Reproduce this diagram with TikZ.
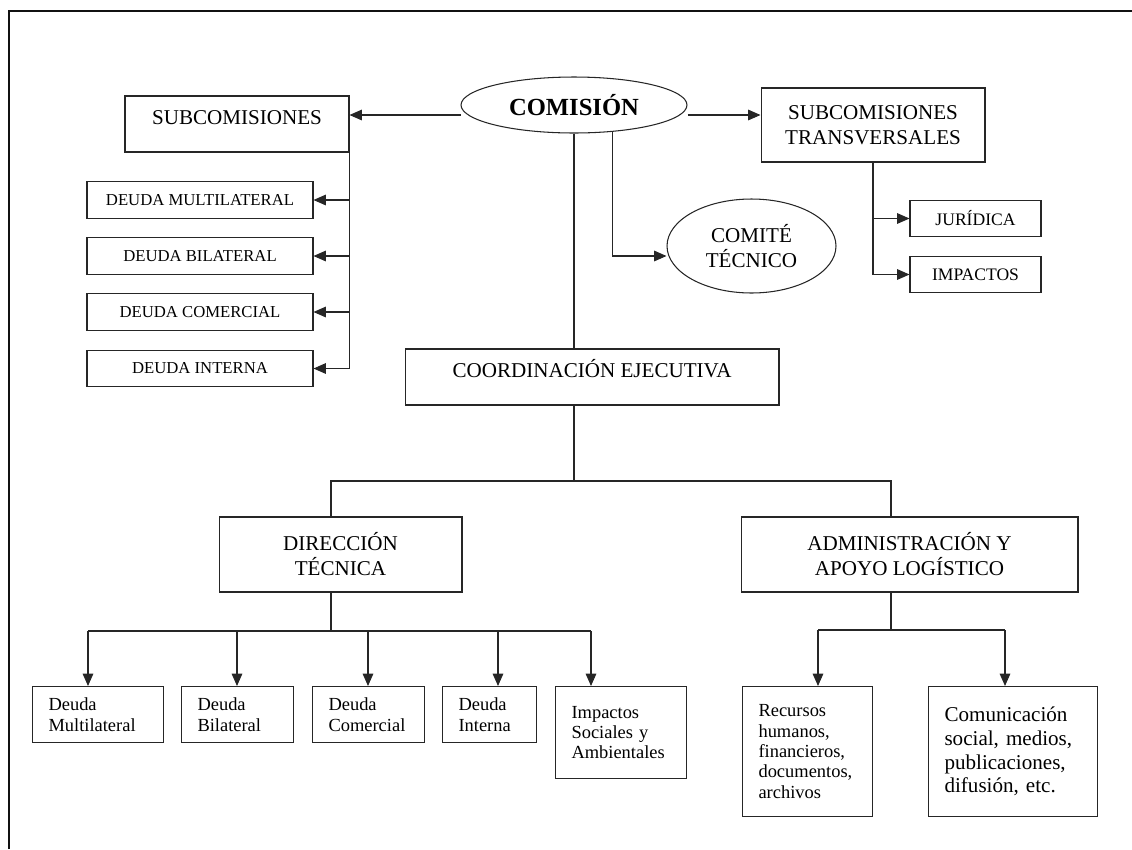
\documentclass[tikz,border=0pt]{standalone}
\usepackage{fontspec}
\setmainfont{Liberation Serif}
\usetikzlibrary{arrows.meta,shapes.geometric}
\definecolor{frame}{HTML}{111111}
\definecolor{edge}{HTML}{262626}

\begin{document}
\begin{tikzpicture}[x=0.02cm,y=-0.02cm,
  box/.style={draw=edge,line width=0.6pt,inner sep=0pt,align=center,font=\fontsize{12}{14.2}\selectfont},
  oval/.style={ellipse,draw=edge,line width=0.6pt,inner sep=0pt,align=center},
  small/.style={draw=edge,line width=0.6pt,inner sep=0pt,minimum height=0.73cm,font=\fontsize{9.5}{11}\selectfont},
  leaf/.style={draw=edge,line width=0.6pt,anchor=north west,inner xsep=0.32cm,inner ysep=0pt,align=left,font=\fontsize{10.5}{11.6}\selectfont},
  link/.style={edge,line width=0.6pt},
  arr/.style={edge,line width=0.6pt,-{Triangle[length=7pt,width=6pt]}}]

  \useasboundingbox (0,0) rectangle (1132,849);
  % Page frame
  \draw[frame,line width=1.3pt] (9,849) -- (9,11) -- (1132,11);

  % Top level
  \node[oval,minimum width=4.52cm,minimum height=1.12cm,font=\fontsize{14}{16}\selectfont\bfseries] (comision) at (574,105) {COMISIÓN};
  \node[box,minimum width=4.48cm,minimum height=1.12cm,text height=0.3cm,text depth=0.3cm] (subcom) at (237,124) {SUBCOMISIONES};
  \node[box,minimum width=4.48cm,minimum height=1.48cm] (transv) at (873,125) {SUBCOMISIONES\\TRANSVERSALES};
  \node[oval,minimum width=3.38cm,minimum height=1.88cm,font=\fontsize{12}{14.2}\selectfont] (comite) at (751.5,246) {COMITÉ\\TÉCNICO};

  % Subcomisiones
  \node[small,minimum width=4.52cm] (dmulti) at (200,200) {DEUDA MULTILATERAL};
  \node[small,minimum width=4.52cm] (dbi) at (200,256) {DEUDA BILATERAL};
  \node[small,minimum width=4.52cm] (dcom) at (200,312) {DEUDA COMERCIAL};
  \node[small,minimum width=4.52cm] (dint) at (200,368.5) {DEUDA INTERNA};

  % Transversales
  \node[small,minimum width=2.62cm,font=\fontsize{10}{12}\selectfont] (juridica) at (975.5,218.5) {JURÍDICA};
  \node[small,minimum width=2.62cm,font=\fontsize{10}{12}\selectfont] (impactos) at (975.5,274.5) {IMPACTOS};

  % Coordination
  \node[box,minimum width=7.48cm,minimum height=1.12cm,text height=0.3cm,text depth=0.3cm] (coord) at (592,377) {COORDINACIÓN EJECUTIVA};
  \node[box,minimum width=4.86cm,minimum height=1.5cm] (direc) at (340.5,554.5) {DIRECCIÓN\\TÉCNICA};
  \node[box,minimum width=6.74cm,minimum height=1.5cm] (admin) at (909.5,554.5) {ADMINISTRACIÓN Y\\APOYO LOGÍSTICO};

  % Bottom row
  \node[leaf,text width=1.98cm,minimum height=1.12cm] (bmulti) at (32,686) {Deuda\\Multilateral};
  \node[leaf,text width=1.6cm,minimum height=1.12cm] (bbi) at (181,686) {Deuda\\Bilateral};
  \node[leaf,text width=1.6cm,minimum height=1.12cm] (bcom) at (312,686) {Deuda\\Comercial};
  \node[leaf,text width=1.24cm,minimum height=1.12cm] (bint) at (442,686) {Deuda\\Interna};
  \node[leaf,text width=1.98cm,minimum height=1.84cm] (bimp) at (555,686) {Impactos\\Sociales y\\Ambientales};
  \node[leaf,text width=1.96cm,minimum height=2.6cm] (brec) at (742,686) {Recursos\\humanos,\\financieros,\\documentos,\\archivos};
  \node[leaf,text width=2.74cm,minimum height=2.6cm,font=\fontsize{12}{13.4}\selectfont] (bcomu) at (928,686) {Comunicación\\social, medios,\\publicaciones,\\difusión, etc.};

  % Links from the top
  \coordinate (lvlT) at (0,115);
  \coordinate (lvlC) at (0,256);
  \draw[arr] (comision.west |- lvlT) -- (subcom.east |- lvlT);
  \draw[arr] (comision.east |- lvlT) -- (transv.west |- lvlT);
  \draw[link] (comision.south) -- (comision.south |- coord.north);
  \draw[arr] (comision.-35) |- (comite.west |- lvlC);
  \draw[arr] (transv.south) |- (juridica.west);
  \draw[arr] (transv.south) |- (impactos.west);
  \foreach \n in {dmulti,dbi,dcom,dint}
    \draw[arr] (subcom.south east) |- (\n.east);

  % Links below coordination
  \coordinate (busM) at (574,481);
  \coordinate (dropL) at (331,481);
  \coordinate (dropR) at (891,481);
  \draw[link] (coord.south -| busM) -- (busM);
  \draw[link] (dropL |- direc.north) -- (dropL) -- (dropR) -- (dropR |- admin.north);

  \coordinate (busD) at (331,631);
  \draw[link] (direc.south -| busD) -- (busD);
  \foreach \x/\n in {88/bmulti,237/bbi,368/bcom,498/bint,591/bimp} {
    \coordinate (t\n) at (\x,631);
    \draw[arr] (t\n) -- (t\n |- \n.north);
  }
  \draw[link] (tbmulti) -- (tbimp);

  \coordinate (busA) at (891,630);
  \draw[link] (admin.south -| busA) -- (busA);
  \foreach \x/\n in {818/brec,1005/bcomu} {
    \coordinate (t\n) at (\x,630);
    \draw[arr] (t\n) -- (t\n |- \n.north);
  }
  \draw[link] (tbrec) -- (tbcomu);
\end{tikzpicture}
\end{document}
